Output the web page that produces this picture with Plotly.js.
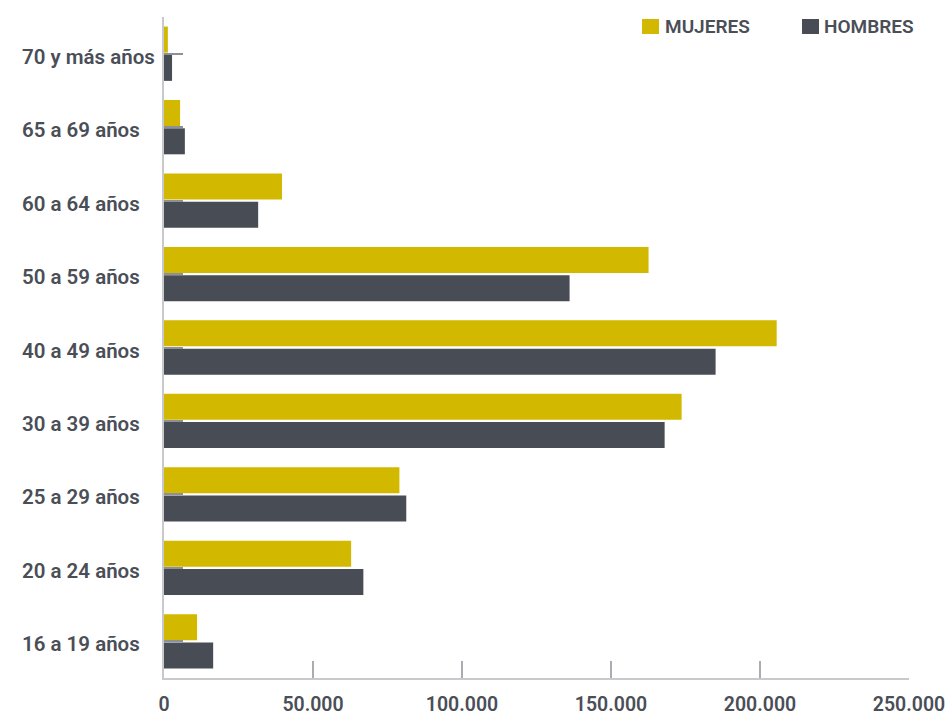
<!DOCTYPE html>
<html>
<head>
<meta charset="utf-8">
<script src="https://cdn.plot.ly/plotly-3.0.1.min.js"></script>
<style>html,body{margin:0;padding:0;background:#fff;}#chart{width:945px;height:716px;}</style>
</head>
<body>
<div id="chart"></div>
<script>
var categories = ["16 a 19 años","20 a 24 años","25 a 29 años","30 a 39 años","40 a 49 años","50 a 59 años","60 a 64 años","65 a 69 años","70 y más años"];
var mujeres = [11100, 62800, 79000, 173700, 205600, 162600, 39600, 5400, 1300];
var hombres = [16500, 66900, 81300, 168000, 185100, 136100, 31600, 7000, 2700];
var xTickVals = [0, 50000, 100000, 150000, 200000, 250000];
var seriesNames = ["MUJERES", "HOMBRES"];
var seriesColors = ["#d2b900", "#484c54"];

var FONT = "Roboto, 'Open Sans', sans-serif";
var TXT = "#4a4e57";
var W = 600;

var traces = [
  {type:"bar", orientation:"h", name:seriesNames[1], y:categories, x:hombres, marker:{color:seriesColors[1]}, hoverinfo:"x"},
  {type:"bar", orientation:"h", name:seriesNames[0], y:categories, x:mujeres, marker:{color:seriesColors[0]}, hoverinfo:"x"}
];

var annotations = categories.map(function(c){
  return {xref:"paper", yref:"y", x:-0.193, y:c, xanchor:"left", yanchor:"middle", yshift:-3,
          text:c, showarrow:false, font:{family:FONT, size:20.5, color:TXT, weight:W}};
});

// manual legend (square + label)
var legendPos = [{sq:[0.6416,0.6644], tx:0.6698}, {sq:[0.8564,0.8792], tx:0.8833}];
var shapes = [];
seriesNames.forEach(function(n, i){
  var p = legendPos[i];
  shapes.push({type:"rect", xref:"paper", yref:"paper", x0:p.sq[0], x1:p.sq[1], y0:0.9743, y1:0.997,
               fillcolor:seriesColors[i], line:{width:0}});
  annotations.push({xref:"paper", yref:"paper", x:p.tx, y:0.9856, xanchor:"left", yanchor:"middle",
                    text:n, showarrow:false, font:{family:FONT, size:19, color:TXT, weight:W}});
});

var layout = {
  width:945, height:716,
  margin:{l:164, r:36, t:17, b:38},
  paper_bgcolor:"#fff", plot_bgcolor:"#fff",
  barmode:"group", bargap:0.23, bargroupgap:0.08,
  separators:",.",
  showlegend:false,
  xaxis:{range:[0,250000], tickvals:xTickVals, tickformat:",d", showgrid:false, zeroline:false,
         showline:true, linecolor:"#c8c9cd", linewidth:2, ticks:"inside", ticklen:17, tickwidth:2, tickcolor:"#a9acb1",
         ticklabelstandoff:8, ticklabeloverflow:"allow", automargin:false,
         tickfont:{family:FONT, size:19.5, color:TXT, weight:W}, fixedrange:true},
  yaxis:{type:"category", categoryorder:"array", categoryarray:categories, range:[-0.5,8.5],
         showticklabels:false, showgrid:false, zeroline:false, showline:true, linecolor:"#c8c9cd", linewidth:2,
         ticks:"inside", ticklen:19, tickwidth:2, tickcolor:"#8d9097", fixedrange:true},
  shapes:shapes,
  annotations:annotations
};

Plotly.newPlot("chart", traces, layout, {displayModeBar:false, staticPlot:true});
</script>
</body>
</html>
